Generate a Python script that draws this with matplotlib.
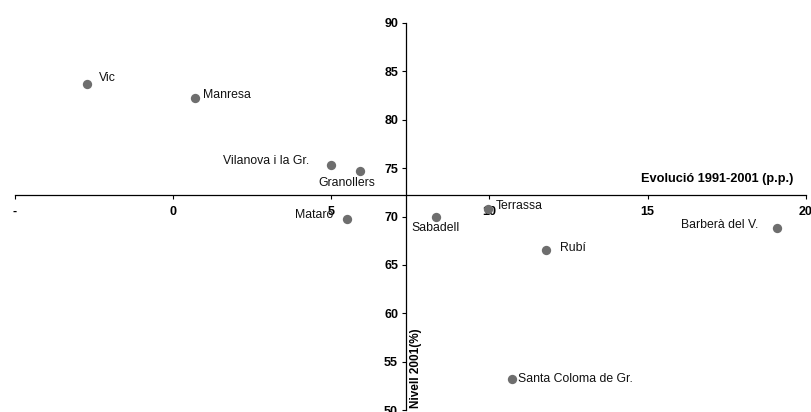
import matplotlib
matplotlib.use("Agg")
import matplotlib.pyplot as plt

plt.rcParams['font.family'] = ['Liberation Sans', 'DejaVu Sans']

# Data
cities = ['Vic', 'Manresa', 'Vilanova i la Gr.', 'Granollers', 'Mataró',
          'Sabadell', 'Terrassa', 'Barberà del V.', 'Rubí', 'Santa Coloma de Gr.']
evolucio = [-2.7, 0.7, 5.0, 5.9, 5.5, 8.3, 9.95, 19.1, 11.8, 10.7]
nivell = [83.7, 82.2, 75.3, 74.7, 69.7, 70.0, 70.8, 68.8, 66.5, 53.2]

# label offsets (points) and alignment per city
offsets = [(8, 4), (6, 2), (-16, 3), (-9, -9), (-10, 3),
           (0, -8), (6, 2), (-14, 2), (10, 2), (5, 0)]
aligns = ['left', 'left', 'right', 'center', 'right',
          'center', 'left', 'right', 'left', 'left']

x_ticks = [-5, 0, 5, 10, 15, 20]
x_ticklabels = ['-', '0', '5', '10', '15', '20']
y_ticks = [50, 55, 60, 65, 70, 75, 80, 85, 90]

x_cross = 7.38   # vertical axis position
y_cross = 72.2   # horizontal axis position

fig = plt.figure(figsize=(8.12, 4.12), dpi=100)
ax = fig.add_axes([0.018, 0.004, 0.9745, 0.941])

ax.scatter(evolucio, nivell, s=45, color='#6e6e6e', zorder=3, linewidths=0)

for name, x, y, off, ha in zip(cities, evolucio, nivell, offsets, aligns):
    ax.annotate(name, (x, y), xytext=off, textcoords='offset points',
                ha=ha, va='center', fontsize=8.8, color='#111111')

ax.set_xlim(-5, 20)
ax.set_ylim(50, 90)

ax.spines['top'].set_visible(False)
ax.spines['right'].set_visible(False)
ax.spines['left'].set_position(('data', x_cross))
ax.spines['bottom'].set_position(('data', y_cross))
for s in ['left', 'bottom']:
    ax.spines[s].set_linewidth(0.9)

ax.set_xticks(x_ticks)
ax.set_xticklabels(x_ticklabels, fontweight='bold', fontsize=9)
ax.set_yticks(y_ticks)
ax.set_yticklabels([str(v) for v in y_ticks], fontweight='bold', fontsize=9)
ax.tick_params(axis='x', direction='out', length=3, width=0.8, pad=5)
ax.tick_params(axis='y', direction='out', length=3, width=0.8, pad=3)

ax.text(19.6, y_cross + 1.0, 'Evolució 1991-2001 (p.p.)', ha='right', va='bottom',
        fontsize=9.2, fontweight='bold')
ax.text(x_cross + 0.12, 50.2, 'Nivell 2001(%)', rotation=90, ha='left', va='bottom',
        fontsize=8.5, fontweight='bold')

fig.savefig('out.png', dpi=100)
